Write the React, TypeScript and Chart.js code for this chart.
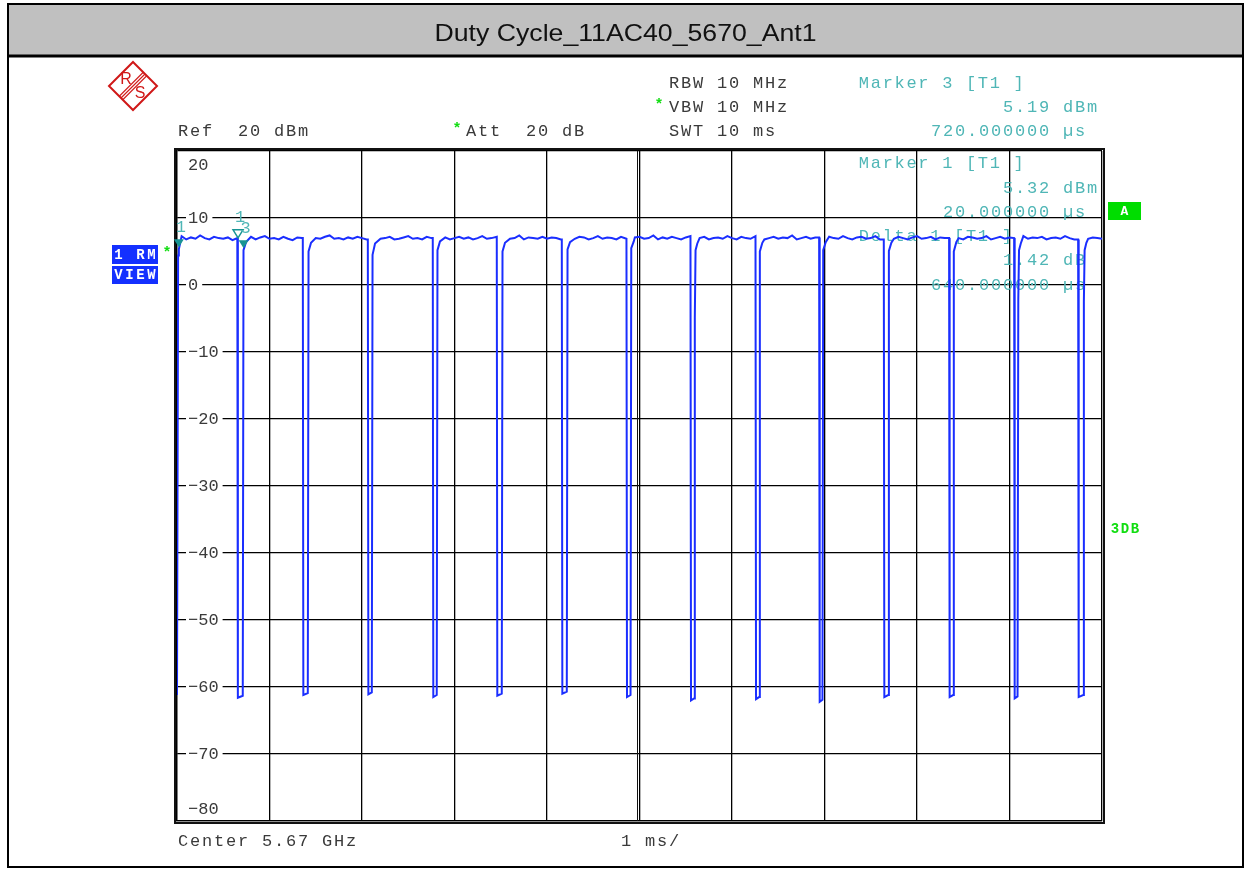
import React, { useEffect, useRef } from "react";
import { Chart, registerables } from "chart.js";

Chart.register(...registerables);

const W = 1245;
const H = 869;

const TITLE = "Duty Cycle_11AC40_5670_Ant1";

const X_MIN_MS = 0;
const X_MAX_MS = 10;
const X_DIV_MS = 1;
const Y_MIN_DBM = -80;
const Y_MAX_DBM = 20;
const Y_TICK_VALUES = [20, 10, 0, -10, -20, -30, -40, -50, -60, -70, -80];

// settings / marker readouts
const HEADER_LEFT = ["Ref  20 dBm"];
const HEADER_ATT = ["Att  20 dB"];
const HEADER_MID = ["RBW 10 MHz", "VBW 10 MHz", "SWT 10 ms"];
const MARKER3_TEXT = ["Marker 3 [T1 ]", "5.19 dBm", "720.000000 µs "];
const MARKER1_TEXT = ["Marker 1 [T1 ]", "5.32 dBm", "20.000000 µs "];
const DELTA1_TEXT = ["Delta 1 [T1 ]", "1.42 dB ", "640.000000 µs "];
const FOOTER_TEXT = ["Center 5.67 GHz", "1 ms/"];

// markers (time in ms, level in dBm)
const MARKER_LABELS = ["1", "1", "3"];
const MARKER_TIMES_MS = [0.02, 0.66, 0.72];
const MARKER_LEVELS_DBM = [5.32, 6.74, 5.19];
const MARKER_HOLLOW = [false, true, false];

// trace: start of sweep
const START_MS = [0, 0.012, 0.02];
const START_DBM = [-61.2, 4.4, 5.32];

// trace: plateau samples every 0.05 ms
const PLATEAU_STEP_MS = 0.05;
const PLATEAU_DBM = [
  6.9, 7.3, 6.8, 7.1, 6.9, 7.4, 7.0, 6.8, 7.2, 7.0, 6.9, 7.1, 6.7, 7.0, 6.8, 6.9, 7.2, 6.8, 7.1, 7.3,
  6.9, 7.0, 6.8, 7.2, 6.9, 6.7, 7.1, 7.0, 7.3, 6.8, 7.0, 6.9, 7.2, 7.4, 6.9, 7.0, 6.8, 7.1, 6.9, 7.2,
  7.0, 6.8, 7.1, 7.5, 6.9, 7.0, 7.2, 6.8, 6.9, 7.1, 7.3, 6.9, 7.0, 6.8, 7.2, 7.0, 6.9, 7.3, 7.1, 6.8,
  7.0, 7.2, 6.9, 7.1, 6.8, 7.0, 7.3, 6.9, 7.0, 7.2, 6.8, 7.1, 6.9, 7.0, 7.4, 6.8, 7.1, 7.0, 6.9, 7.2,
  6.9, 7.1, 7.0, 6.8, 7.3, 7.0, 6.9, 7.2, 7.1, 6.8, 7.0, 7.3, 6.9, 7.1, 7.0, 6.8, 7.2, 6.9, 7.0, 7.1,
  7.2, 6.9, 7.0, 7.4, 6.8, 7.1, 6.9, 7.2, 7.0, 6.8, 7.1, 7.3, 6.9, 7.0, 7.2, 6.8, 7.0, 7.1, 6.9, 7.3,
  7.0, 6.8, 7.2, 7.0, 6.9, 7.3, 7.1, 6.8, 7.0, 7.2, 6.9, 7.1, 7.0, 7.4, 6.8, 7.0, 7.2, 6.9, 7.1, 7.0,
  6.8, 7.2, 7.0, 6.9, 7.3, 7.0, 6.8, 7.1, 7.2, 6.9, 7.0, 7.3, 6.8, 7.1, 7.0, 6.9, 7.2, 7.0, 6.8, 7.1,
  7.3, 6.9, 7.0, 7.2, 6.8, 7.1, 7.0, 6.9, 7.4, 7.0, 6.8, 7.2, 7.1, 6.9, 7.0, 7.3, 6.8, 7.0, 7.2, 6.9,
  7.1, 7.0, 6.8, 7.3, 6.9, 7.1, 7.0, 7.2, 6.8, 7.0, 7.1, 6.9, 7.3, 7.0, 6.8, 7.2, 7.0, 6.9, 7.1, 7.0,
  6.9,
];

// trace: off-gaps between bursts
const GAP_FALL_MS = [0.652, 1.36, 2.063, 2.765, 3.457, 4.16, 4.859, 5.551, 6.254, 6.942, 7.641, 8.347, 9.05, 9.742];
const GAP_RISE_MS = [0.711, 1.414, 2.106, 2.808, 3.511, 4.214, 4.903, 5.59, 6.293, 6.978, 7.688, 8.39, 9.087, 9.796];
const GAP_FLOOR_DBM = [-61.6, -61.2, -61.1, -61.5, -61.3, -61.0, -61.5, -62.0, -61.8, -62.2, -61.5, -61.5, -61.7, -61.5];
const GAP_STEP_DBM = [5.19, 5.0, 4.5, 5.2, 5.0, 5.3, 5.5, -4.9, 5.0, 5.2, 5.1, 5.0, -2.2, -2.5];
const GAP_SHOULDER_DBM = [6.4, 6.3, 6.2, 6.5, 6.3, 6.4, 6.5, 6.2, 6.3, 6.4, 6.3, 6.4, 6.2, 6.3];

function buildTrace() {
  const pts: { x: number; y: number }[] = [];
  START_MS.forEach((t, i) => pts.push({ x: t, y: START_DBM[i] }));
  PLATEAU_DBM.forEach((v, i) => {
    const t = i * PLATEAU_STEP_MS;
    if (t <= 0.03) return;
    const inGap = GAP_FALL_MS.some((f, g) => t > f - 0.01 && t < GAP_RISE_MS[g] + 0.045);
    if (!inGap) pts.push({ x: t, y: v });
  });
  GAP_FALL_MS.forEach((f, g) => {
    const r = GAP_RISE_MS[g];
    const before = PLATEAU_DBM[Math.floor(f / PLATEAU_STEP_MS)];
    pts.push({ x: f, y: before });
    pts.push({ x: f + 0.006, y: GAP_FLOOR_DBM[g] });
    pts.push({ x: r, y: GAP_FLOOR_DBM[g] + 0.3 });
    pts.push({ x: r + 0.008, y: GAP_STEP_DBM[g] });
    if (GAP_STEP_DBM[g] < 0) pts.push({ x: r + 0.016, y: GAP_STEP_DBM[0] });
    pts.push({ x: r + 0.035, y: GAP_SHOULDER_DBM[g] });
  });
  pts.sort((a, b) => a.x - b.x);
  return pts;
}

const MONO = '"Liberation Mono", "DejaVu Sans Mono", monospace';
const GRAY = "#3a3a3a";
const TEAL = "#4fb6b6";
const TEAL_DARK = "#189494";
const GREEN = "#11dd11";

function mono(ctx: CanvasRenderingContext2D, s: string, x: number, y: number, pitch: number, align: "left" | "right" = "left") {
  const chars = Array.from(s);
  const start = align === "left" ? x : x - chars.length * pitch;
  ctx.textAlign = "left";
  ctx.textBaseline = "middle";
  chars.forEach((c, i) => {
    const adv = ctx.measureText(c).width;
    ctx.fillText(c, start + i * pitch + (pitch - adv) / 2, y);
  });
}

function star(ctx: CanvasRenderingContext2D, x: number, y: number) {
  ctx.save();
  ctx.fillStyle = GREEN;
  ctx.font = `bold 15px ${MONO}`;
  ctx.textAlign = "center";
  ctx.textBaseline = "middle";
  ctx.fillText("*", x, y);
  ctx.restore();
}

const decor = {
  id: "decor",
  beforeDraw(chart: any) {
    const ctx: CanvasRenderingContext2D = chart.ctx;
    ctx.save();
    ctx.fillStyle = "#fff";
    ctx.fillRect(0, 0, W, H);
    // title bar
    ctx.fillStyle = "#c0c0c0";
    ctx.fillRect(8, 4, 1235, 52);
    ctx.strokeStyle = "#000";
    ctx.lineWidth = 2;
    ctx.strokeRect(8, 4, 1235, 863);
    ctx.lineWidth = 3;
    ctx.beginPath();
    ctx.moveTo(8, 56);
    ctx.lineTo(1243, 56);
    ctx.stroke();
    // title
    ctx.fillStyle = "#111";
    ctx.font = '24px "Liberation Sans", Arial, sans-serif';
    const tw = ctx.measureText(TITLE).width;
    const target = 382;
    ctx.save();
    ctx.translate(625.5, 33);
    ctx.scale(target / tw, 1);
    ctx.textAlign = "center";
    ctx.textBaseline = "middle";
    ctx.fillText(TITLE, 0, 1);
    ctx.restore();

    // R&S logo
    ctx.save();
    ctx.translate(133, 86);
    ctx.strokeStyle = "#d01818";
    ctx.lineWidth = 2;
    ctx.beginPath();
    ctx.moveTo(0, -24);
    ctx.lineTo(24, 0);
    ctx.lineTo(0, 24);
    ctx.lineTo(-24, 0);
    ctx.closePath();
    ctx.stroke();
    ctx.lineWidth = 1.1;
    [-3.5, 0, 3.5].forEach((c) => {
      ctx.beginPath();
      ctx.moveTo((c + 24) / 2, (c - 24) / 2);
      ctx.lineTo((c - 24) / 2, (c + 24) / 2);
      ctx.stroke();
    });
    ctx.fillStyle = "#d01818";
    ctx.font = '16px "Liberation Sans", Arial, sans-serif';
    ctx.textAlign = "center";
    ctx.textBaseline = "middle";
    ctx.fillText("R", -7, -6);
    ctx.fillText("S", 7, 8);
    ctx.restore();

    // header texts
    ctx.font = `17px ${MONO}`;
    ctx.fillStyle = GRAY;
    mono(ctx, HEADER_LEFT[0], 177, 131, 12);
    mono(ctx, HEADER_ATT[0], 465, 131, 12);
    mono(ctx, HEADER_MID[0], 668, 83, 12);
    mono(ctx, HEADER_MID[1], 668, 107, 12);
    mono(ctx, HEADER_MID[2], 668, 131, 12);
    star(ctx, 457, 129);
    star(ctx, 659, 105);
    ctx.font = `17px ${MONO}`;
    ctx.fillStyle = TEAL;
    mono(ctx, MARKER3_TEXT[0], 858, 83, 11.9);
    mono(ctx, MARKER3_TEXT[1], 1098, 107, 12, "right");
    mono(ctx, MARKER3_TEXT[2], 1098, 131, 12, "right");

    // footer
    ctx.fillStyle = GRAY;
    mono(ctx, FOOTER_TEXT[0], 177, 841, 12);
    mono(ctx, FOOTER_TEXT[1], 620, 841, 12);

    // side boxes
    ctx.fillStyle = "#1430ff";
    ctx.fillRect(112, 245, 46, 19);
    ctx.fillRect(112, 266, 46, 18);
    ctx.fillStyle = "#fff";
    ctx.font = `bold 14px ${MONO}`;
    mono(ctx, "1 RM", 113, 255, 11);
    mono(ctx, "VIEW", 113, 275.5, 11);
    star(ctx, 167, 253);

    ctx.fillStyle = "#00dd00";
    ctx.fillRect(1108, 202, 33, 18);
    ctx.fillStyle = "#fff";
    ctx.font = `bold 13px ${MONO}`;
    ctx.textAlign = "center";
    ctx.textBaseline = "middle";
    ctx.fillText("A", 1124.5, 211.5);

    ctx.fillStyle = GREEN;
    ctx.font = `bold 14px ${MONO}`;
    mono(ctx, "3DB", 1110, 529, 10);
    ctx.restore();
  },
  beforeDatasetsDraw(chart: any) {
    const ctx: CanvasRenderingContext2D = chart.ctx;
    const xs = chart.scales.x;
    const ys = chart.scales.y;
    const ca = chart.chartArea;
    ctx.save();
    // double outer frame
    ctx.strokeStyle = "#111";
    ctx.lineWidth = 2;
    ctx.strokeRect(ca.left - 2, ca.top - 2, ca.right - ca.left + 4, ca.bottom - ca.top + 4);
    // extra centre line
    const cx = Math.round(xs.getPixelForValue((X_MIN_MS + X_MAX_MS) / 2)) - 2.5;
    ctx.lineWidth = 1;
    ctx.beginPath();
    ctx.moveTo(cx, ca.top);
    ctx.lineTo(cx, ca.bottom);
    ctx.stroke();

    // y labels inside plot
    ctx.font = `17px ${MONO}`;
    Y_TICK_VALUES.forEach((v) => {
      let cy = ys.getPixelForValue(v);
      if (v === Y_MAX_DBM) cy += 14;
      else if (v === Y_MIN_DBM) cy -= 12;
      const s = v < 0 ? "\u2212" + Math.abs(v) : String(v);
      const w = Array.from(s).length * 10.2;
      ctx.fillStyle = "#fff";
      ctx.fillRect(ca.left + 9, cy - 7, w + 6, 14);
      ctx.fillStyle = GRAY;
      mono(ctx, s, ca.left + 11, cy, 10.2);
    });

    // marker readouts inside the plot
    ctx.fillStyle = TEAL;
    mono(ctx, MARKER1_TEXT[0], 858, 163, 11.9);
    mono(ctx, MARKER1_TEXT[1], 1098, 188, 12, "right");
    mono(ctx, MARKER1_TEXT[2], 1098, 212, 12, "right");
    mono(ctx, DELTA1_TEXT[0], 858, 236, 11.9);
    mono(ctx, DELTA1_TEXT[1], 1098, 260, 12, "right");
    mono(ctx, DELTA1_TEXT[2], 1098, 285, 12, "right");
    ctx.restore();
  },
  afterDatasetsDraw(chart: any) {
    const ctx: CanvasRenderingContext2D = chart.ctx;
    const xs = chart.scales.x;
    const ys = chart.scales.y;
    ctx.save();
    MARKER_TIMES_MS.forEach((t, i) => {
      const px = xs.getPixelForValue(t);
      const tip = ys.getPixelForValue(MARKER_LEVELS_DBM[i]) - 2;
      ctx.beginPath();
      ctx.moveTo(px, tip);
      ctx.lineTo(px - 5, tip - 8);
      ctx.lineTo(px + 5, tip - 8);
      ctx.closePath();
      if (MARKER_HOLLOW[i]) {
        ctx.strokeStyle = TEAL_DARK;
        ctx.lineWidth = 1.5;
        ctx.stroke();
      } else {
        ctx.fillStyle = TEAL_DARK;
        ctx.fill();
      }
      ctx.fillStyle = TEAL;
      ctx.font = `17px ${MONO}`;
      ctx.textAlign = "center";
      ctx.textBaseline = "middle";
      ctx.fillText(MARKER_LABELS[i], px + 2, tip - 20);
    });
    ctx.restore();
  },
};

export default function App() {
  const ref = useRef<HTMLCanvasElement | null>(null);
  useEffect(() => {
    if (!ref.current) return;
    const gridColor = "#000";
    const chart = new Chart(ref.current, {
      type: "line",
      data: {
        datasets: [
          {
            data: buildTrace(),
            borderColor: "#1a2eff",
            borderWidth: 2,
            pointRadius: 0,
            tension: 0,
            fill: false,
          },
        ],
      },
      options: {
        responsive: false,
        animation: false,
        devicePixelRatio: 1,
        layout: { padding: { left: 177, right: W - 1102, top: 151, bottom: H - 821 } },
        plugins: { legend: { display: false }, tooltip: { enabled: false }, title: { display: false } },
        scales: {
          x: {
            type: "linear",
            min: X_MIN_MS,
            max: X_MAX_MS,
            ticks: { display: false, stepSize: X_DIV_MS },
            grid: { color: gridColor, lineWidth: 1.3, drawTicks: false },
            border: { display: true, color: gridColor, width: 1.3 },
          },
          y: {
            type: "linear",
            min: Y_MIN_DBM,
            max: Y_MAX_DBM,
            ticks: { display: false, stepSize: 10 },
            grid: { color: gridColor, lineWidth: 1.3, drawTicks: false },
            border: { display: true, color: gridColor, width: 1.3 },
          },
        },
      } as any,
      plugins: [decor as any],
    });
    return () => chart.destroy();
  }, []);
  return (
    <div style={{ position: "absolute", left: 0, top: 0, width: W, height: H }}>
      <canvas ref={ref} width={W} height={H} style={{ display: "block" }} />
    </div>
  );
}
